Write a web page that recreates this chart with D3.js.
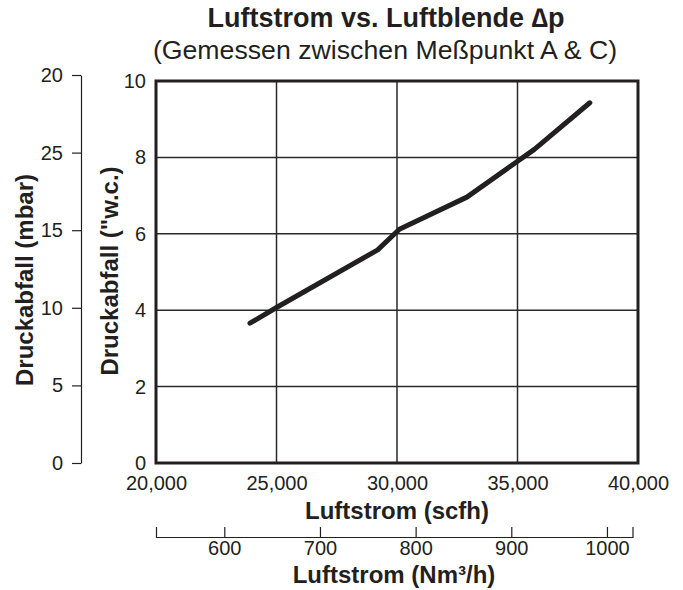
<!DOCTYPE html>
<html>
<head>
<meta charset="utf-8">
<script src="https://cdn.jsdelivr.net/npm/d3@7/dist/d3.min.js"></script>
<style>
  html, body { margin: 0; padding: 0; background: #fff; }
  svg text { font-family: "Liberation Sans", Arial, Helvetica, sans-serif; fill: #231f20; }
</style>
</head>
<body>
<svg id="chart" width="683" height="590"></svg>
<script>
// ---- Data ----
const airflowScfh = [23900, 25000, 29200, 30100, 32900, 35700, 38000];
const pressureWc  = [3.66, 4.07, 5.58, 6.12, 6.96, 8.21, 9.43];

const scfhTicks = [20000, 25000, 30000, 35000, 40000];
const scfhTickLabels = ["20,000", "25,000", "30,000", "35,000", "40,000"];
const wcTicks = [0, 2, 4, 6, 8, 10];
const mbarTicks = [0, 5, 10, 15, 20, 25];
const mbarTickLabels = ["0", "5", "10", "15", "25", "20"];
const nmTicks = [600, 700, 800, 900, 1000];

const titleText = "Luftstrom vs. Luftblende \u2206p";
const subtitleText = "(Gemessen zwischen Meßpunkt A & C)";

// ---- Layout ----
const svg = d3.select("#chart");
const plot = { left: 156, right: 638, top: 81, bottom: 463 };

const x = d3.scaleLinear().domain([20000, 40000]).range([plot.left, plot.right]);
const y = d3.scaleLinear().domain([0, 10]).range([plot.bottom, plot.top]);
const yMbar = d3.scaleLinear().domain([0, 25]).range([plot.bottom, 75]);
const xNm = d3.scaleLinear().domain([528.6, 1026.7]).range([156, 632.5]);

// Title
svg.append("text").attr("x", 386).attr("y", 27).attr("text-anchor", "middle")
  .style("font-size", "27px").style("font-weight", "bold").text(titleText);
svg.append("text").attr("x", 385).attr("y", 59).attr("text-anchor", "middle")
  .style("font-size", "26.7px").text(subtitleText);

// Grid
const grid = svg.append("g");
grid.selectAll("line.v").data(scfhTicks.slice(1, -1)).join("line")
  .attr("x1", d => x(d)).attr("x2", d => x(d))
  .attr("y1", plot.top).attr("y2", plot.bottom)
  .attr("stroke", "#2a2a2a").attr("stroke-width", 1.5);
grid.selectAll("line.h").data(wcTicks.slice(1, -1)).join("line")
  .attr("y1", d => y(d)).attr("y2", d => y(d))
  .attr("x1", plot.left).attr("x2", plot.right)
  .attr("stroke", "#2a2a2a").attr("stroke-width", 1.5);

// Frame
svg.append("rect").attr("x", plot.left).attr("y", plot.top)
  .attr("width", plot.right - plot.left).attr("height", plot.bottom - plot.top)
  .attr("fill", "none").attr("stroke", "#231f20").attr("stroke-width", 3);

// Curve
const line = d3.line().x((d, i) => x(airflowScfh[i])).y(d => y(d));
svg.append("path").datum(pressureWc).attr("d", line)
  .attr("fill", "none").attr("stroke", "#231f20").attr("stroke-width", 5)
  .attr("stroke-linecap", "round").attr("stroke-linejoin", "round");

// Y axis ("w.c.) labels
const yAx = svg.append("g").attr("transform", `translate(${plot.left},0)`)
  .call(d3.axisLeft(y).tickValues(wcTicks).tickSize(0).tickPadding(10).tickFormat(d3.format("d")));
yAx.select(".domain").remove();
yAx.selectAll("text").style("font-size", "20px").style("font-family", null).attr("fill", null);

// X axis (scfh) labels
const xAx = svg.append("g").attr("transform", `translate(0,${plot.bottom})`)
  .call(d3.axisBottom(x).tickValues(scfhTicks).tickSize(0).tickPadding(13)
    .tickFormat((d, i) => scfhTickLabels[i]));
xAx.select(".domain").remove();
xAx.selectAll("text").style("font-size", "20px").style("font-family", null).attr("fill", null);

// mbar axis
const mAx = svg.append("g").attr("transform", "translate(81,0)")
  .call(d3.axisLeft(yMbar).tickValues(mbarTicks).tickSize(9).tickSizeOuter(0).tickPadding(9)
    .tickFormat((d, i) => mbarTickLabels[i]));
mAx.selectAll("path, line").attr("stroke", "#231f20").attr("stroke-width", 1.2);
mAx.selectAll("text").style("font-size", "20px").style("font-family", null).attr("fill", null);

// Nm3/h axis
const nAx = svg.append("g").attr("transform", "translate(0,537)")
  .call(d3.axisBottom(xNm).tickValues(nmTicks).tickSize(-10).tickSizeOuter(-10).tickPadding(4)
    .tickFormat(d3.format("d")));
nAx.selectAll("path, line").attr("stroke", "#231f20").attr("stroke-width", 1.2);
nAx.selectAll("text").style("font-size", "20px").style("font-family", null).attr("fill", null);

// Axis titles
svg.append("text").attr("x", 397).attr("y", 519).attr("text-anchor", "middle")
  .style("font-size", "24px").style("font-weight", "bold").text("Luftstrom (scfh)");
svg.append("text").attr("x", 394).attr("y", 583).attr("text-anchor", "middle")
  .style("font-size", "24px").style("font-weight", "bold").text("Luftstrom (Nm³/h)");
svg.append("text").attr("transform", "translate(33,280) rotate(-90)").attr("text-anchor", "middle")
  .style("font-size", "24px").style("font-weight", "bold").text("Druckabfall (mbar)");
svg.append("text").attr("transform", "translate(118,271) rotate(-90)").attr("text-anchor", "middle")
  .style("font-size", "24px").style("font-weight", "bold").text("Druckabfall (\"w.c.)");
</script>
</body>
</html>
